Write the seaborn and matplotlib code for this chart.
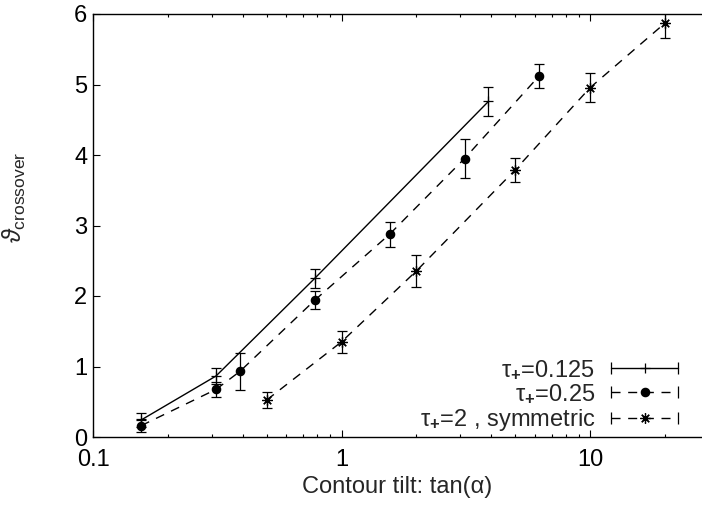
import numpy as np
import pandas as pd
import matplotlib
matplotlib.use('Agg')
import matplotlib.pyplot as plt
import seaborn as sns
from matplotlib.lines import Line2D
from matplotlib.legend_handler import HandlerLine2D
from matplotlib.ticker import FixedLocator, LogLocator, NullFormatter, FuncFormatter

# %% Datos (x = tan(alpha), y = theta crossover, err = barra de error)
tau_0125_x = [0.156, 0.3125, 0.78, 3.9]
tau_0125_y = [0.24, 0.865, 2.25, 4.76]
tau_0125_err = [0.10, 0.12, 0.13, 0.21]

tau_025_x = [0.156, 0.3125, 0.39, 0.78, 1.56, 3.125, 6.25]
tau_025_y = [0.16, 0.675, 0.93, 1.94, 2.875, 3.95, 5.125]
tau_025_err = [0.09, 0.11, 0.26, 0.13, 0.18, 0.28, 0.17]

tau_2_x = [0.5, 1.0, 2.0, 5.0, 10.0, 20.0]
tau_2_y = [0.525, 1.35, 2.355, 3.79, 4.955, 5.87]
tau_2_err = [0.12, 0.16, 0.23, 0.17, 0.21, 0.21]

etiquetas = ['τ$_{\\mathbf{+}}$=0.125', 'τ$_{\\mathbf{+}}$=0.25', 'τ$_{\\mathbf{+}}$=2 , symmetric']
yticks = [0, 1, 2, 3, 4, 5, 6]
xticks = [0.1, 1, 10]

# %% Estilo
sns.set_style('ticks')
plt.rcParams['font.family'] = ['Liberation Sans', 'DejaVu Sans']
plt.rcParams['mathtext.fontset'] = 'custom'
plt.rcParams['mathtext.rm'] = 'Liberation Sans'
plt.rcParams['mathtext.it'] = 'Liberation Sans:italic'
plt.rcParams['mathtext.bf'] = 'Liberation Sans:bold'
FS = 17

fig = plt.figure(figsize=(7.02, 5.14), dpi=100)
ax = fig.add_axes([93 / 702, 77 / 514, 609 / 702, 423 / 514])

guion = (0, (6.5, 5.5))
series = [
    (tau_0125_x, tau_0125_y, tau_0125_err, '-', '+', 7, 'k'),
    (tau_025_x, tau_025_y, tau_025_err, guion, 'o', 6, 'k'),
    (tau_2_x, tau_2_y, tau_2_err, guion, (8, 2, 0), 7.5, 'k'),
]

handles = []
handler_map = {}
for (x, y, err, ls, mk, ms, mfc), lab in zip(series, etiquetas):
    df = pd.DataFrame({'x': x, 'y': y})
    sns.lineplot(data=df, x='x', y='y', ax=ax, color='k', linewidth=1.0,
                 linestyle=ls, marker=mk, markersize=ms, markerfacecolor=mfc,
                 markeredgecolor='k', markeredgewidth=0.9, sort=False,
                 legend=False, errorbar=None)
    ax.errorbar(x, y, yerr=err, fmt='none', ecolor='k', elinewidth=0.9,
                capsize=3.5, capthick=0.9)
    # muestra de leyenda: linea con topes en los extremos + marcador al centro
    topes = Line2D([], [], color='k', lw=1.0, ls=ls, marker='|', markersize=8,
                   markeredgewidth=0.9)
    centro = Line2D([], [], ls='none', marker=mk, markersize=ms, color='k',
                    markerfacecolor=mfc, markeredgecolor='k', markeredgewidth=0.9)
    handler_map[topes] = HandlerLine2D(numpoints=2, marker_pad=0)
    handler_map[centro] = HandlerLine2D(numpoints=1)
    handles.append((topes, centro))

# %% Ejes
ax.set_xscale('log')
ax.set_xlim(0.1, 28.2)
ax.set_ylim(0, 6)
ax.xaxis.set_major_locator(FixedLocator(xticks))
ax.xaxis.set_major_formatter(FuncFormatter(lambda v, p: f'{v:g}'))
ax.xaxis.set_minor_locator(LogLocator(base=10, subs=np.arange(2, 10)))
ax.xaxis.set_minor_formatter(NullFormatter())
ax.set_yticks(yticks)

for s in ['left', 'bottom', 'top']:
    ax.spines[s].set_linewidth(1.0)
    ax.spines[s].set_color('k')
ax.spines['right'].set_visible(False)

ax.tick_params(which='both', direction='in', top=True, right=False,
               colors='k', width=0.8, labelsize=FS)
ax.tick_params(which='major', length=5)
ax.tick_params(which='minor', length=2.5)
ax.tick_params(axis='y', pad=4)
ax.tick_params(axis='x', pad=9)

ax.set_xlabel('Contour tilt: tan(α)', fontsize=FS, labelpad=3)
ax.set_ylabel(r'$\vartheta_{\mathrm{crossover}}$', fontsize=FS + 1)
ax.yaxis.set_label_coords(-0.107, 0.567)

ax.legend(handles, etiquetas, handler_map=handler_map, loc='lower right',
          bbox_to_anchor=(0.961, 0.01), frameon=False, markerfirst=False,
          handlelength=2.84, handletextpad=0.68, labelspacing=0.05,
          fontsize=FS, borderaxespad=0, borderpad=0)

fig.savefig('out.png', dpi=100)
